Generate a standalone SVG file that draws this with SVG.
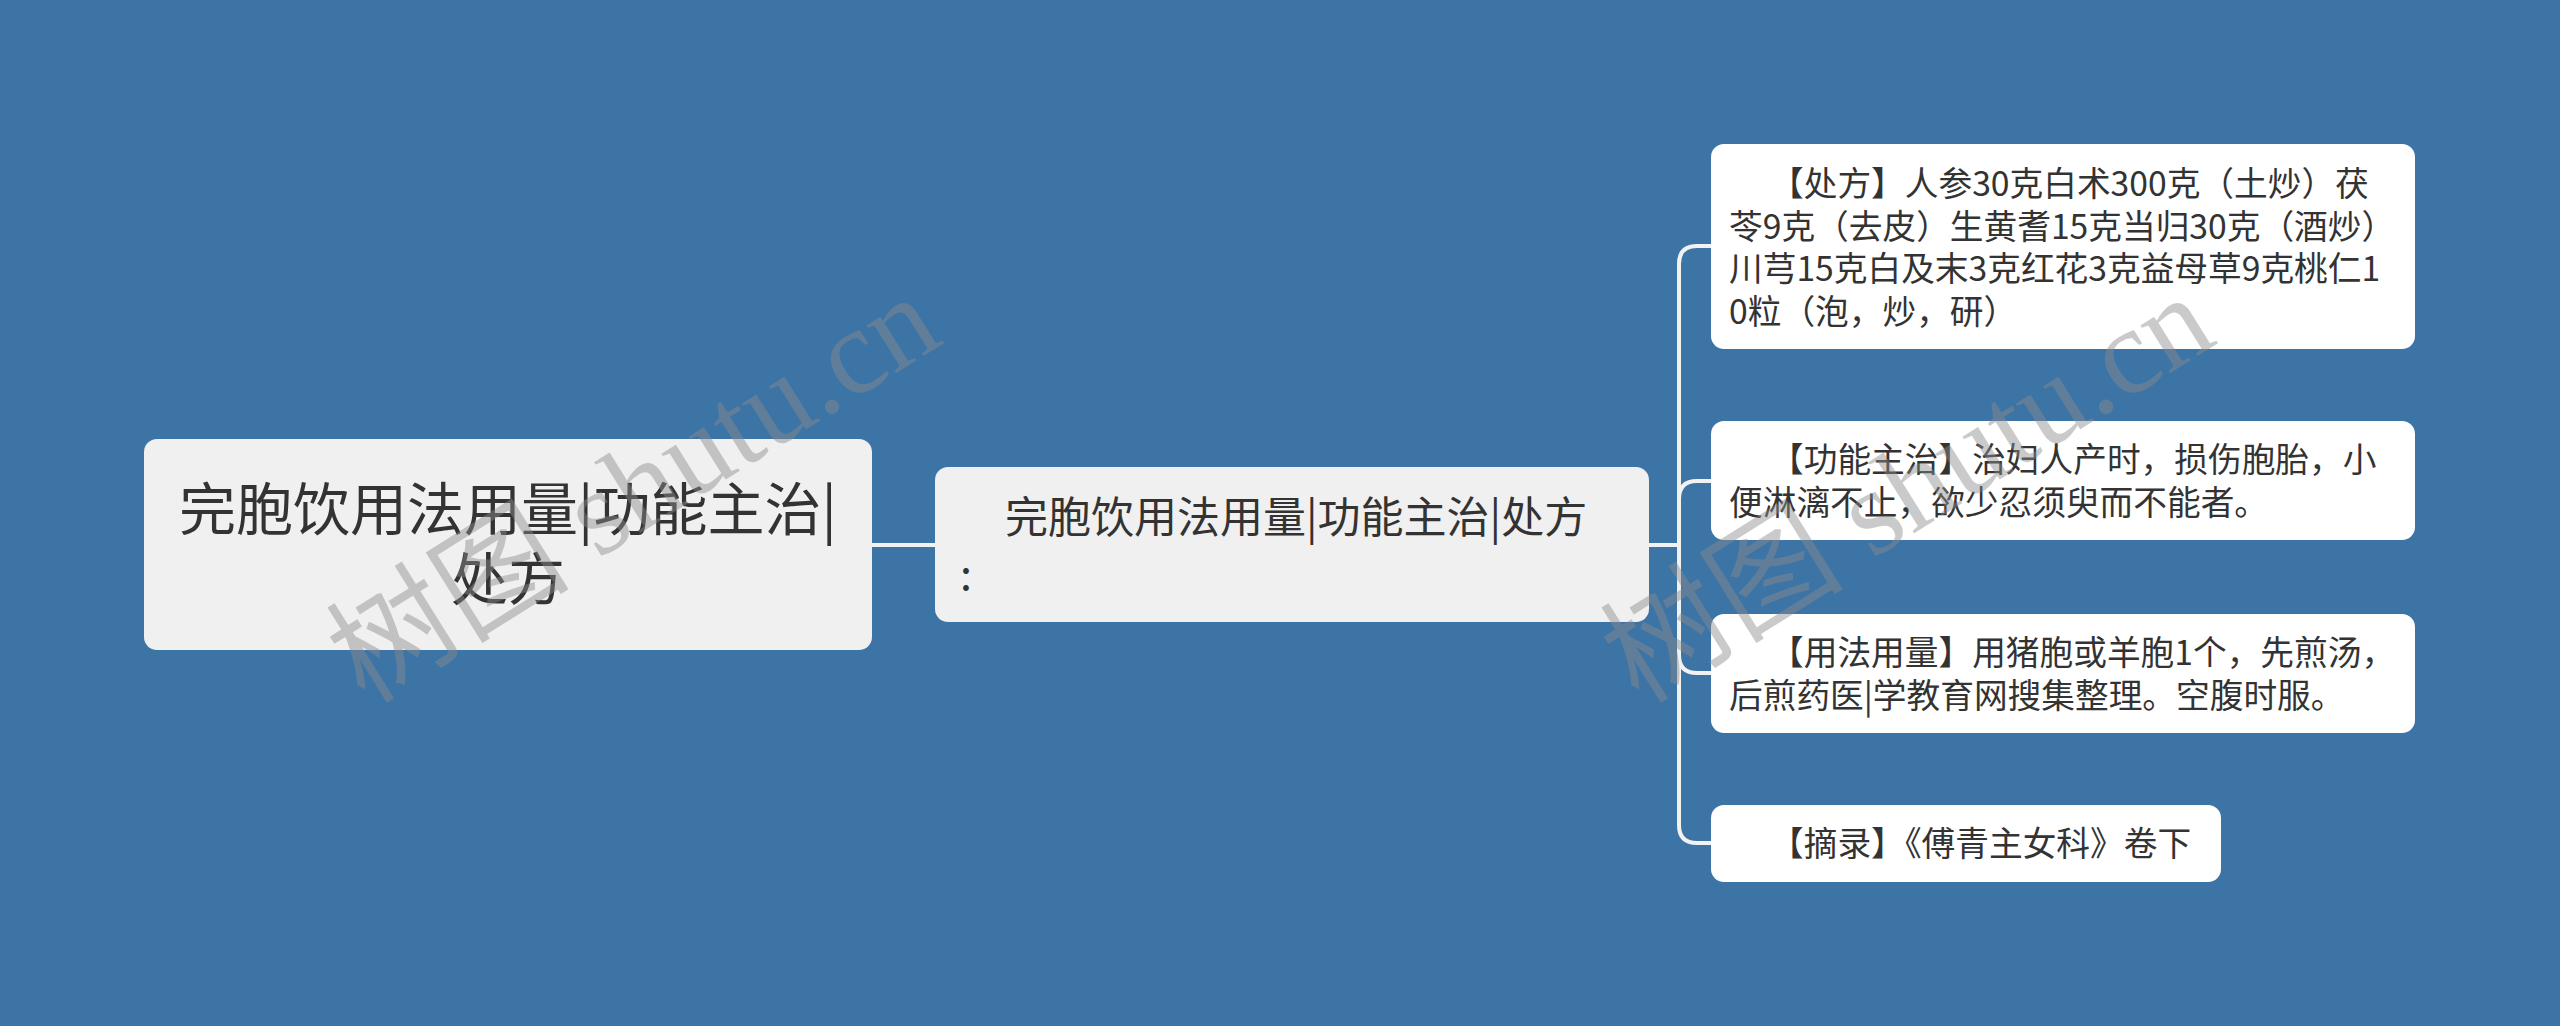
<svg xmlns="http://www.w3.org/2000/svg" width="2560" height="1026" viewBox="0 0 2560 1026">
<style>
.bg{fill:#3D74A6}
.n1{fill:#F0F0F0}
.n3{fill:#FFFFFF}
.t{font-family:"Noto Sans CJK SC","Noto Sans",sans-serif;fill:#333333}
.root{font-size:57px}
.mid{font-size:43px}
.leaf{font-size:33.7px}
.c{fill:none;stroke:#F2F2F2;stroke-width:4;stroke-linecap:round}
.wm{font-family:"Liberation Serif","Noto Sans CJK SC",serif;font-size:122px;fill:#8C8C8C;opacity:0.45}
</style>
<rect class="bg" x="0" y="0" width="2560" height="1026"/>
<g id="connectors">
<path class="c" d="M872,545 H935"/>
<path class="c" d="M1649,545 H1679"/>
<path class="c" d="M1679,545 V264 Q1679,246 1697,246 H1711"/>
<path class="c" d="M1679,545 V499 Q1679,481 1697,481 H1711"/>
<path class="c" d="M1679,545 V655 Q1679,673 1697,673 H1711"/>
<path class="c" d="M1679,545 V825 Q1679,843 1697,843 H1711"/>
</g>
<g id="root">
<rect class="n1" x="144" y="439" width="728" height="211" rx="13"/>
<text class="t root" text-anchor="middle"><tspan x="508" y="530">完胞饮用法用量|功能主治|</tspan><tspan x="508" y="600">处方</tspan></text>
</g>
<g id="center">
<rect class="n1" x="935" y="467" width="714" height="155" rx="13"/>
<text class="t mid"><tspan x="1005" y="533">完胞饮用法用量|功能主治|处方</tspan><tspan x="960" y="590">:</tspan></text>
</g>
<g id="leaf1">
<rect class="n3" x="1711" y="144" width="704" height="205" rx="13"/>
<text class="t leaf"><tspan x="1770" y="196">【处方】人参30克白术300克（土炒）茯</tspan><tspan x="1729" y="238.5">苓9克（去皮）生黄耆15克当归30克（酒炒）</tspan><tspan x="1729" y="281">川芎15克白及末3克红花3克益母草9克桃仁1</tspan><tspan x="1729" y="323.5">0粒（泡，炒，研）</tspan></text>
</g>
<g id="leaf2">
<rect class="n3" x="1711" y="421" width="704" height="119" rx="13"/>
<text class="t leaf"><tspan x="1770" y="472">【功能主治】治妇人产时，损伤胞胎，小</tspan><tspan x="1729" y="514.5">便淋漓不止，欲少忍须臾而不能者。</tspan></text>
</g>
<g id="leaf3">
<rect class="n3" x="1711" y="614" width="704" height="119" rx="13"/>
<text class="t leaf"><tspan x="1770" y="665">【用法用量】用猪胞或羊胞1个，先煎汤，</tspan><tspan x="1729" y="707.5">后煎药医|学教育网搜集整理。空腹时服。</tspan></text>
</g>
<g id="leaf4">
<rect class="n3" x="1711" y="805" width="510" height="77" rx="13"/>
<text class="t leaf"><tspan x="1770" y="856">【摘录】《傅青主女科》卷下</tspan></text>
</g>
<g id="watermarks">
<text class="wm" transform="translate(365,705) rotate(-32)">树图 shutu.cn</text>
<text class="wm" transform="translate(1639,705) rotate(-32)">树图 shutu.cn</text>
</g>
</svg>
